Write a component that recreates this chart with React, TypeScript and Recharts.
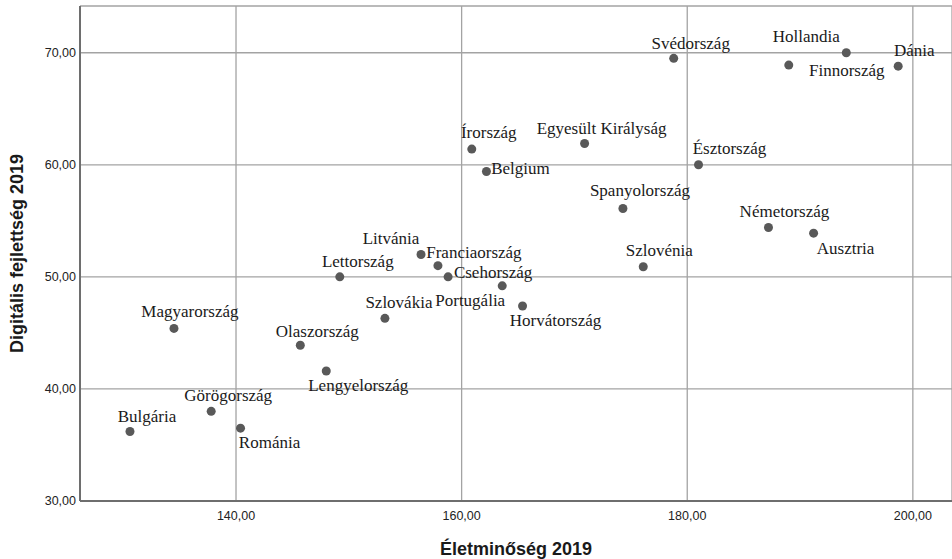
import { ScatterChart, Scatter, XAxis, YAxis, CartesianGrid } from 'recharts';

const countries = [
  'Bulgária', 'Görögország', 'Románia', 'Magyarország', 'Olaszország',
  'Lengyelország', 'Lettország', 'Szlovákia', 'Litvánia', 'Franciaország',
  'Csehország', 'Portugália', 'Horvátország', 'Írország', 'Belgium',
  'Egyesült Királyság', 'Spanyolország', 'Szlovénia', 'Svédország', 'Észtország',
  'Németország', 'Finnország', 'Ausztria', 'Hollandia', 'Dánia',
];
const eletminoseg = [
  130.6, 137.8, 140.4, 134.5, 145.7,
  148.0, 149.2, 153.2, 156.4, 157.9,
  158.8, 163.6, 165.4, 160.9, 162.2,
  170.9, 174.3, 176.1, 178.8, 181.0,
  187.2, 189.0, 191.2, 194.1, 198.7,
];
const digitalis = [
  36.2, 38.0, 36.5, 45.4, 43.9,
  41.6, 50.0, 46.3, 52.0, 51.0,
  50.0, 49.2, 47.4, 61.4, 59.4,
  61.9, 56.1, 50.9, 69.5, 60.0,
  54.4, 68.9, 53.9, 70.0, 68.8,
];
const xTicks = [140, 160, 180, 200];
const yTicks = [30, 40, 50, 60, 70];

// label placement next to each dot: [dx of text centre, dy of baseline]
const labelOffset: Record<string, [number, number]> = {
  'Bulgária': [17, -10],
  'Görögország': [17, -10],
  'Románia': [29, 20],
  'Magyarország': [16, -11],
  'Olaszország': [17, -8],
  'Lengyelország': [32, 20],
  'Lettország': [18, -10],
  'Szlovákia': [14, -10],
  'Litvánia': [-30, -10],
  'Franciaország': [36, -8],
  'Csehország': [45, 1],
  'Portugália': [-32, 20],
  'Horvátország': [33, 20],
  'Írország': [17, -11],
  'Belgium': [34, 2],
  'Egyesült Királyság': [17, -10],
  'Spanyolország': [17, -13],
  'Szlovénia': [16, -11],
  'Svédország': [17, -9],
  'Észtország': [31, -11],
  'Németország': [16, -11],
  'Finnország': [58, 11],
  'Ausztria': [32, 21],
  'Hollandia': [-40, -11],
  'Dánia': [16, -10],
};

const data = countries.map((name, i) => ({ name, x: eletminoseg[i], y: digitalis[i] }));

const fmt = (v: number) => v.toFixed(2).replace('.', ',');

const Dot = (props: any) => {
  const { cx, cy, payload } = props;
  const [dx, dy] = labelOffset[payload.name] || [0, -10];
  return (
    <g>
      <circle cx={cx} cy={cy} r={4.5} fill="#595959" />
      <text
        x={cx + dx}
        y={cy + dy}
        textAnchor="middle"
        fontFamily="'Liberation Serif', serif"
        fontSize={17}
        fill="#1a1a1a"
      >
        {payload.name}
      </text>
    </g>
  );
};

const tickStyle = { fontFamily: "'Liberation Sans', Arial, sans-serif", fontSize: 12.5, fill: '#222' };
const titleStyle = { fontFamily: "'Liberation Sans', Arial, sans-serif", fontSize: 18, fontWeight: 'bold', fill: '#1a1a1a' };

export default function App() {
  return (
    <div style={{ position: 'absolute', left: 0, top: 0, background: '#fff' }}>
      <ScatterChart width={952} height={559} margin={{ top: 6, right: 0, bottom: 0, left: 0 }}>
        <CartesianGrid stroke="#a3a3a3" strokeWidth={1.3} />
        <XAxis
          type="number"
          dataKey="x"
          domain={[126.17, 203.47]}
          ticks={xTicks}
          tickFormatter={fmt}
          tickLine={false}
          axisLine={{ stroke: '#6e6e6e', strokeWidth: 2 }}
          tick={tickStyle}
          tickMargin={4}
          height={58}
          allowDataOverflow
          label={{ value: 'Életminőség 2019', position: 'insideBottom', offset: 4, style: titleStyle }}
        />
        <YAxis
          type="number"
          dataKey="y"
          domain={[30, 74.17]}
          ticks={yTicks}
          tickFormatter={fmt}
          tickLine={false}
          axisLine={{ stroke: '#6e6e6e', strokeWidth: 2 }}
          tick={tickStyle}
          tickSize={4}
          tickMargin={0}
          width={80}
          allowDataOverflow
          label={{
            value: 'Digitális fejlettség 2019',
            angle: -90,
            position: 'insideLeft',
            offset: 17,
            style: { ...titleStyle, textAnchor: 'middle' },
          }}
        />
        <Scatter data={data} shape={Dot} isAnimationActive={false} />
      </ScatterChart>
    </div>
  );
}
